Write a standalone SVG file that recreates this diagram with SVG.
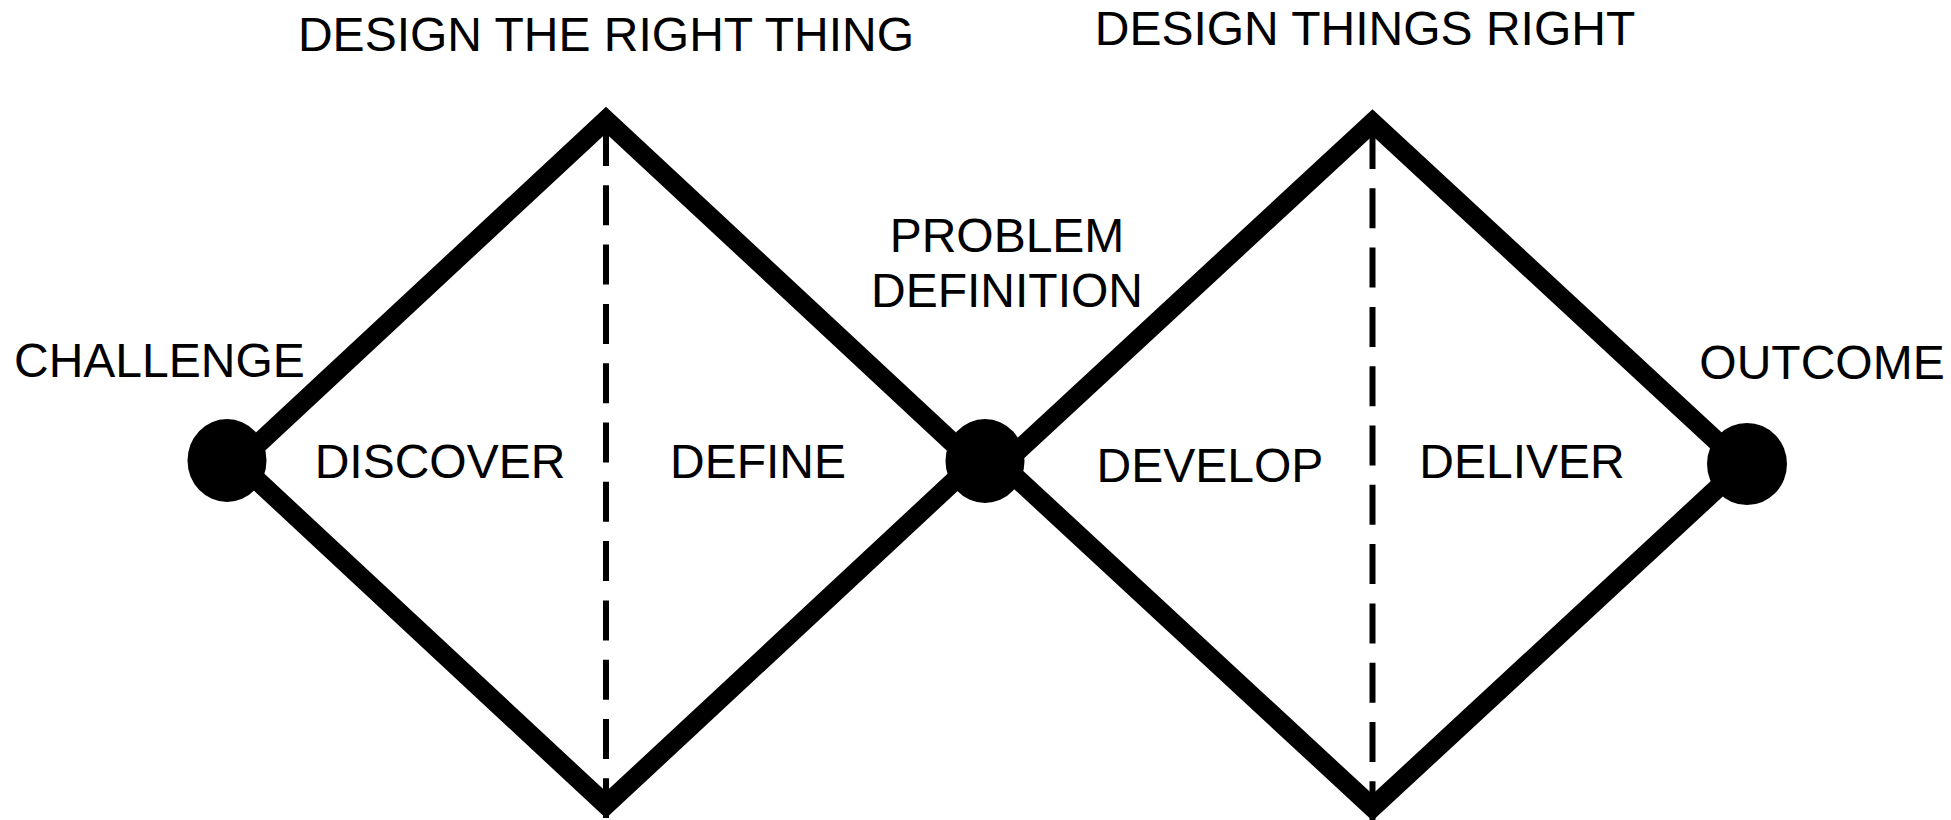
<svg xmlns="http://www.w3.org/2000/svg" width="1951" height="820" viewBox="0 0 1951 820">
  <style>
    .txt { font-family: "Liberation Sans", Arial, sans-serif; font-size: 48px; fill: #000; }
    .mid { text-anchor: middle; }
    .arm { fill: none; stroke: #000; stroke-width: 19.5; stroke-linejoin: miter; stroke-miterlimit: 10; }
    .dash { fill: none; stroke: #000; stroke-width: 6; stroke-dasharray: 40 19.3; }
    .dot { fill: #000; }
  </style>
  <rect x="0" y="0" width="1951" height="820" fill="#fff"/>

  <g id="connectors">
    <polygon class="arm" points="238,462.5 606,120 974,462.5 606,805"/>
    <polygon class="arm" points="1002.5,465 1372.5,122.5 1742.5,465 1372.5,807.5"/>
    <line class="dash" x1="606" y1="126" x2="606" y2="818"/>
    <line class="dash" x1="1372.5" y1="129" x2="1372.5" y2="820"/>
  </g>

  <g id="header-left">
    <text class="txt mid" x="606" y="51">DESIGN THE RIGHT THING</text>
  </g>
  <g id="header-right">
    <text class="txt mid" x="1365" y="45">DESIGN THINGS RIGHT</text>
  </g>

  <g id="challenge">
    <ellipse class="dot" cx="227" cy="460.5" rx="39.5" ry="41.5"/>
    <text class="txt" x="14" y="377">CHALLENGE</text>
  </g>
  <g id="problem-definition">
    <ellipse class="dot" cx="985" cy="461" rx="39.5" ry="42"/>
    <text class="txt mid" x="1007" y="252">PROBLEM</text>
    <text class="txt mid" x="1007" y="307">DEFINITION</text>
  </g>
  <g id="outcome">
    <ellipse class="dot" cx="1747" cy="464" rx="40" ry="41"/>
    <text class="txt mid" x="1822" y="379">OUTCOME</text>
  </g>

  <g id="discover"><text class="txt mid" x="440" y="478">DISCOVER</text></g>
  <g id="define"><text class="txt mid" x="758" y="478">DEFINE</text></g>
  <g id="develop"><text class="txt mid" x="1210" y="482">DEVELOP</text></g>
  <g id="deliver"><text class="txt mid" x="1522" y="478">DELIVER</text></g>
</svg>
